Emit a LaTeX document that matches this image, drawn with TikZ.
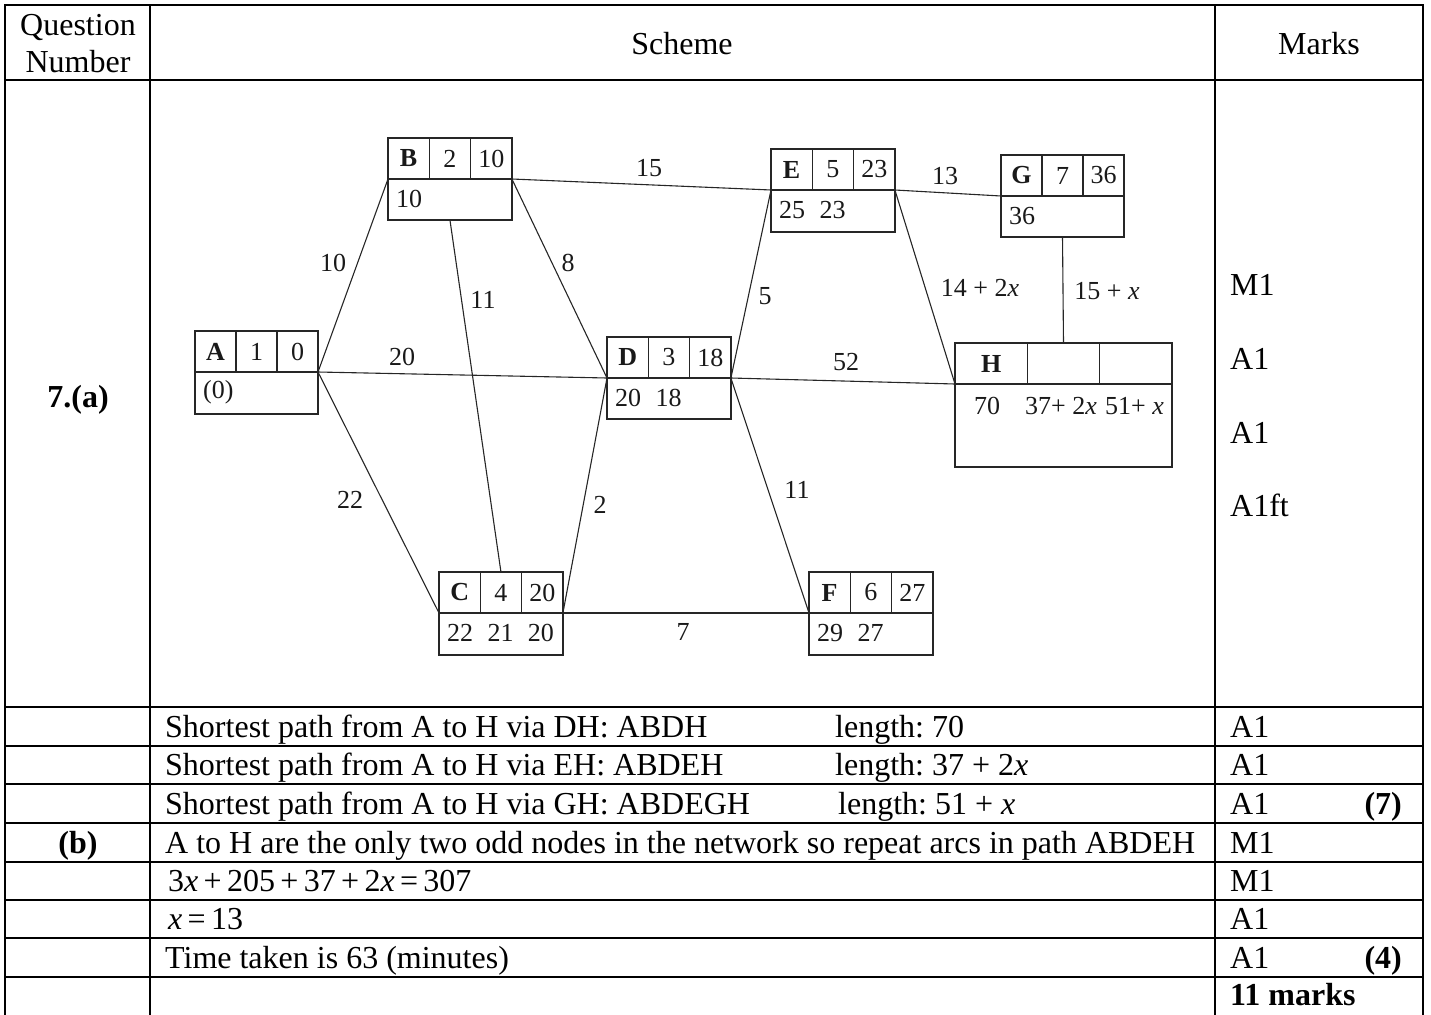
\documentclass[tikz,border=0pt]{standalone}
\usepackage{fontspec}
\setmainfont{Liberation Serif}
\frenchspacing
\newcommand\netbox[9]{%
  \node[bx, anchor=north west, minimum width={3*#4pt}, minimum height=41pt] (#1) at (#2,#3) {};
  \node[bx, anchor=north west, minimum width={3*#4pt}, minimum height={#5pt}] (#1-b) at (#2,#3+41) {};
  \draw[bxl] (#2+#4,#3) -- (#2+#4,#3+41);
  \draw[bxl] (#2+2*#4,#3) -- (#2+2*#4,#3+41);
  \node[lbl, font=\fontsize{26}{30}\selectfont\bfseries] (#1-l) at (#2+0.5*#4,#3+20.5) {#6};
  \node[lbl] (#1-n1) at (#2+1.5*#4,#3+20.5) {#7};
  \node[lbl] (#1-n2) at (#2+2.5*#4,#3+20.5) {#8};
  \node[lbl, anchor=west] (#1-t) at (#2+8,#3+61) {#9};
}
\begin{document}
\frenchspacing
\begin{tikzpicture}[x=1pt,y=-1pt,
  tline/.style={line width=2.6pt, black, line cap=rect},
  bx/.style={draw=black!85, line width=1.3pt, inner sep=0pt, outer sep=0pt},
  bxl/.style={draw=black!85, line width=1.3pt},
  edge/.style={draw=black!85, line width=1.1pt},
  lbl/.style={font=\fontsize{26}{30}\selectfont, inner sep=0pt, text=black!90},
  tt/.style={font=\fontsize{32}{38}\selectfont, inner sep=0pt},
  ttb/.style={font=\fontsize{32}{38}\selectfont\bfseries, inner sep=0pt}]
\useasboundingbox (0,0) rectangle (1431,1014);

% ---- table grid ----
\foreach \yy in {5,80,707,746,784,823,862,900,938,977}
  \draw[tline] (5,\yy) -- (1423,\yy);
\foreach \xx in {5,150,1215,1423}
  \draw[tline] (\xx,5) -- (\xx,1016);

% ---- header ----
\node[tt, anchor=base] (q1) at (78,36) {Question};
\node[tt, anchor=base] (q2) at (78,73) {Number};
\node[tt, anchor=base] (sch) at (682,55) {Scheme};
\node[tt, anchor=base] (mk) at (1319,55) {Marks};
\node[ttb, anchor=base] (qa) at (78,407) {7.(a)};

\node[tt, anchor=base west] (m1) at (1230,295) {M1};
\node[tt, anchor=base west] (m2) at (1230,369) {A1};
\node[tt, anchor=base west] (m3) at (1230,443) {A1};
\node[tt, anchor=base west] (m4) at (1230,516) {A1ft};

% ---- network ----
\netbox{A}{195}{331}{41}{42}{A}{1}{0}{(0)}
\netbox{B}{388}{138}{41.3}{41}{B}{2}{10}{10}
\netbox{C}{439}{572}{41.3}{42}{C}{4}{20}{22\hspace{.55em}21\hspace{.55em}20}
\netbox{D}{607}{337}{41.3}{41}{D}{3}{18}{20\hspace{.55em}18}
\netbox{E}{771}{149}{41.3}{42}{E}{5}{23}{25\hspace{.55em}23}
\netbox{F}{809}{572}{41.3}{42}{F}{6}{27}{29\hspace{.55em}27}
\netbox{G}{1001}{155}{41}{41}{G}{7}{36}{36}
\netbox{H}{955}{343}{72.33}{83}{H}{}{}{}
\node[lbl, anchor=west] (H-t1) at (974,406) {70};
\node[lbl, anchor=west] (H-t2) at (1025,406) {37+ 2\textit{x}};
\node[lbl, anchor=west] (H-t3) at (1105,406) {51+ \textit{x}};

\draw[edge] (A.south east) -- (B.south west);
\draw[edge] (A.south east) -- (D.south west);
\draw[edge] (A.south east) -- (C.south west);
\draw[edge] (B.south east) -- (E.south west);
\draw[edge] (B.south east) -- (D.south west);
\draw[edge] (B-b.south) -- (C.north);
\draw[edge] (C.south east) -- (D.south west);
\draw[edge] (C.south east) -- (F.south west);
\draw[edge] (D.south east) -- (E.south west);
\draw[edge] (D.south east) -- (H.south west);
\draw[edge] (D.south east) -- (F.south west);
\draw[edge] (E.south east) -- (G.south west);
\draw[edge] (E.south east) -- (H.south west);
\draw[edge] (G-b.south) -- (H.north);

\node[lbl] (l1) at (333,263) {10};
\node[lbl] (l2) at (402,357) {20};
\node[lbl] (l3) at (350,500) {22};
\node[lbl] (l4) at (483,300) {11};
\node[lbl] (l5) at (568,263) {8};
\node[lbl] (l6) at (649,168) {15};
\node[lbl] (l7) at (765,296) {5};
\node[lbl] (l8) at (600,505) {2};
\node[lbl] (l9) at (846,362) {52};
\node[lbl] (l10) at (797,490) {11};
\node[lbl] (l11) at (683,632) {7};
\node[lbl] (l12) at (945,176) {13};
\node[lbl] (l13) at (980,288) {14 + 2\textit{x}};
\node[lbl] (l14) at (1107,291) {15 + \textit{x}};

% ---- lower rows ----
\node[tt, anchor=base west] (r1a) at (165,737) {Shortest path from A to H via DH: ABDH};
\node[tt, anchor=base west] (r1b) at (835,737) {length: 70};
\node[tt, anchor=base west] (r1c) at (1230,737) {A1};

\node[tt, anchor=base west] (r2a) at (165,775) {Shortest path from A to H via EH: ABDEH};
\node[tt, anchor=base west] (r2b) at (835,775) {length: 37 + 2\textit{x}};
\node[tt, anchor=base west] (r2c) at (1230,775) {A1};

\node[tt, anchor=base west] (r3a) at (165,814) {Shortest path from A to H via GH: ABDEGH};
\node[tt, anchor=base west] (r3b) at (838,814) {length: 51 + \textit{x}};
\node[tt, anchor=base west] (r3c) at (1230,814) {A1};
\node[ttb, anchor=base east] (r3d) at (1402,814) {(7)};

\node[ttb, anchor=base] (r4q) at (78,853) {(b)};
\node[tt, anchor=base west] (r4a) at (165,853) {A to H are the only two odd nodes in the network so repeat arcs in path ABDEH};
\node[tt, anchor=base west] (r4c) at (1230,853) {M1};

\node[tt, anchor=base west] (r5a) at (168,891) {3\textit{x}\,+\,205\,+\,37\,+\,2\textit{x}\,=\,307};
\node[tt, anchor=base west] (r5c) at (1230,891) {M1};

\node[tt, anchor=base west] (r6a) at (168,929) {\textit{x}\,=\,13};
\node[tt, anchor=base west] (r6c) at (1230,929) {A1};

\node[tt, anchor=base west] (r7a) at (165,968) {Time taken is 63 (minutes)};
\node[tt, anchor=base west] (r7c) at (1230,968) {A1};
\node[ttb, anchor=base east] (r7d) at (1402,968) {(4)};

\node[ttb, anchor=base west] (r8c) at (1230,1005) {11 marks};
\end{tikzpicture}
\end{document}
